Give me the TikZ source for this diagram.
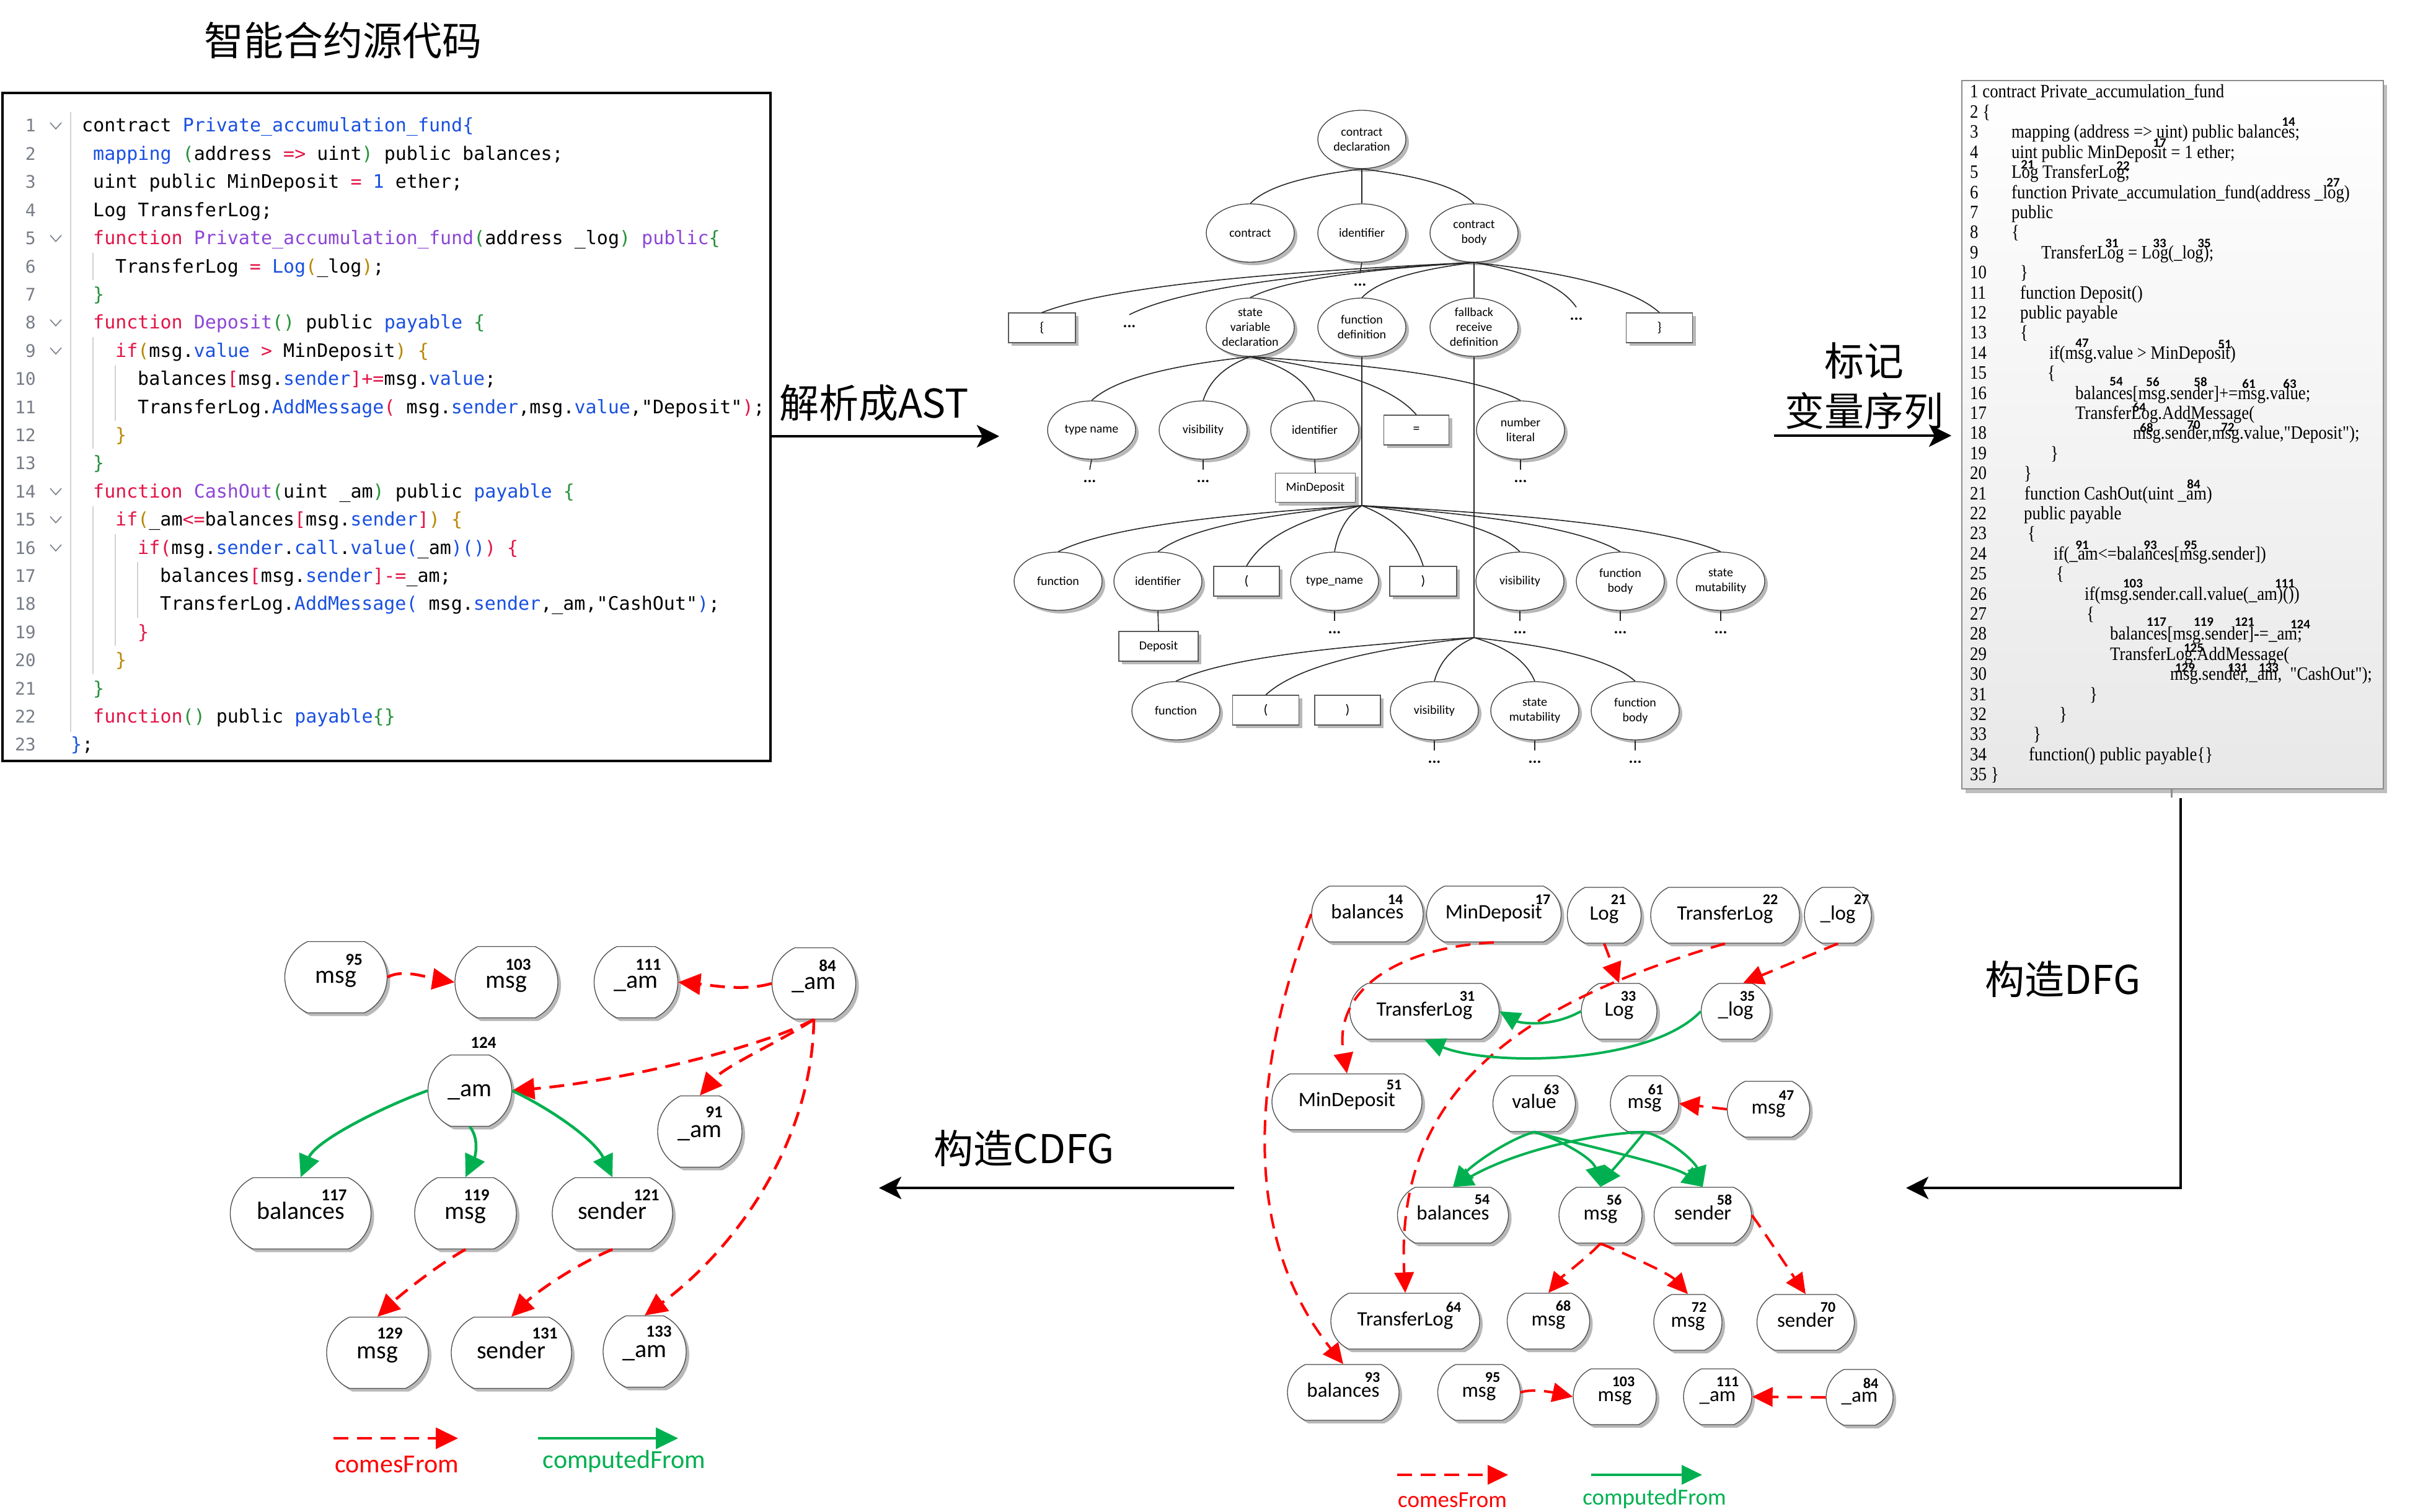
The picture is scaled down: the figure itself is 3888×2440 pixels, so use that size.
\documentclass[tikz,border=0pt]{standalone}
\usepackage{fontspec}
\setmainfont{Carlito}
\newfontfamily\cjk{Noto Sans CJK SC}
\newfontfamily\codefont{DejaVu Sans Mono}[WordSpace={1,0,0}]
\newfontfamily\tnr{Liberation Serif}[FakeStretch=0.88]
\usetikzlibrary{arrows.meta,calc,shapes.geometric,shapes.misc,shadows}
\definecolor{cred}{RGB}{255,0,0}
\definecolor{cgreen}{RGB}{0,176,80}
\definecolor{ckw}{RGB}{228,20,70}
\definecolor{cblu}{RGB}{25,80,225}
\definecolor{cpur}{RGB}{140,70,215}
\definecolor{cgrn}{RGB}{40,145,60}
\definecolor{cgld}{RGB}{185,135,0}
\definecolor{lngray}{RGB}{120,125,135}
\newcommand\cdR[1]{\textcolor{ckw}{#1}}
\newcommand\cdB[1]{\textcolor{cblu}{#1}}
\newcommand\cdP[1]{\textcolor{cpur}{#1}}
\newcommand\cdG[1]{\textcolor{cgrn}{#1}}
\newcommand\cdY[1]{\textcolor{cgld}{#1}}
\newcommand\codeln[3]{\node[ctxt,anchor=base west] (c#1) at (#2,{213+45.4*(#1-1)}) {#3};
  \node[lntxt,anchor=base east] (n#1) at (58,{213+45.4*(#1-1)}) {#1};}
\newcommand\chevr[1]{\pgfmathsetmacro\chvy{203+45.4*(#1-1)}\draw[chevst] (81,\chvy-5) -- (90,\chvy+5) -- (99,\chvy-5);}
\newcommand\rcode[3]{\node[rtxt,anchor=base west] (rt#1) at (#2,{158+32.4*(#1-1)}) {#3};
  \node[rtxt,anchor=base west] (rn#1) at (3178,{158+32.4*(#1-1)}) {#1};}
\newcommand\rcodenum[2]{\node[rtxt,anchor=base west] (rn#1) at (3178,{158+32.4*(#1-1)}) {#2};}
\tikzset{
  shad/.style={drop shadow={shadow xshift=5pt,shadow yshift=-5pt,opacity=0.28,fill=black}},
  astn/.style={ellipse,draw=black!75,line width=1.3pt,fill=white,minimum width=142pt,minimum height=94pt,inner sep=-12pt,align=center,font=\fontsize{20}{24}\selectfont,shad},
  astb/.style={rectangle,draw=black!65,line width=1.3pt,fill=white,minimum height=48pt,inner sep=0pt,font=\fontsize{22}{26}\selectfont,shad},
  tdots/.style={font=\bfseries\fontsize{26}{26}\selectfont,inner sep=0pt,minimum height=38pt},
  tline/.style={line width=1.6pt,draw=black!85},
  tedge/.style={tline,to path={.. controls ($0.5*(\tikztostart)+0.2*(\tikztotarget)+0.3*(\tikztotarget|-\tikztostart)$) and ($0.35*(\tikztotarget)+0.15*(\tikztostart|-\tikztotarget)+0.5*(\tikztotarget|-\tikztostart)$) .. (\tikztotarget)}},
  ctxt/.style={font=\codefont\fontsize{30}{36}\selectfont,inner sep=0pt},
  lntxt/.style={font=\codefont\fontsize{28}{34}\selectfont,text=lngray,inner sep=0pt},
  guide/.style={draw=black!18,line width=1.5pt},
  chevst/.style={draw=lngray,line width=1.6pt},
  rtxt/.style={font=\tnr\fontsize{30.5}{34}\selectfont,inner sep=0pt},
  rnum/.style={font=\bfseries\fontsize{21}{21}\selectfont,inner sep=0pt},
  dfgn/.style={rounded rectangle,rounded rectangle arc length=130,draw=black!70,line width=1.3pt,fill=white,minimum height=90pt,inner xsep=-8pt,inner ysep=0pt,text height=22pt,text depth=6.6pt,font=\fontsize{33}{36}\selectfont,shad},
  cdfgn/.style={dfgn,minimum height=115pt,text height=27pt,text depth=8pt,font=\fontsize{40}{44}\selectfont},
  numl/.style={font=\bfseries\fontsize{24}{24}\selectfont,inner sep=0pt},
  knuml/.style={font=\bfseries\fontsize{27}{27}\selectfont,inner sep=0pt},
  cf/.style={draw=cred,line width=4pt,dash pattern=on 24pt off 14pt,-{Triangle[length=33pt,width=31pt]}},
  cp/.style={draw=cgreen,line width=4pt,-{Triangle[length=33pt,width=31pt]}},
  cfk/.style={cf,line width=4.5pt,-{Triangle[length=36pt,width=34pt]}},
  cpk/.style={cp,line width=4.5pt,-{Triangle[length=36pt,width=34pt]}},
  bigarrow/.style={line width=4pt,-{Stealth[length=36pt,width=36pt,inset=9pt]}},
  cjkt/.style={font=\cjk\fontsize{64}{72}\selectfont,inner sep=0pt},
  legd/.style={font=\fontsize{37}{40}\selectfont,inner sep=0pt},
  legk/.style={font=\fontsize{42}{46}\selectfont,inner sep=0pt}
}
\begin{document}
\begin{tikzpicture}[x=1pt,y=-1pt]
\fill[white] (0,0) rectangle (3888,2440);
\path[use as bounding box] (0,0) rectangle (3888,2440);

% ---------------- title and source code box
\node[cjkt] (title) at (553,65) {智能合约源代码};
\node[draw=black,line width=4pt,fill=white,minimum width=1239pt,minimum height=1078pt,inner sep=0pt,anchor=north west] (lbox) at (2,148) {};
\draw[guide] (114,181) -- (114,1181);
\draw[guide] (150,408) -- (150,452);
\draw[guide] (150,544) -- (150,724);
\draw[guide] (150,817) -- (150,1088);
\draw[guide] (186,590) -- (186,679);
\draw[guide] (186,862) -- (186,1042);
\draw[guide] (222,907) -- (222,997);
\chevr{1}\chevr{5}\chevr{8}\chevr{9}\chevr{14}\chevr{15}\chevr{16}
\codeln{1}{132}{contract \cdB{Private\_accumulation\_fund\{}}
\codeln{2}{150}{\cdB{mapping} \cdG{(}address \cdR{=>} uint\cdG{)} public balances;}
\codeln{3}{150}{uint public MinDeposit \cdR{=} \cdB{1} ether;}
\codeln{4}{150}{Log TransferLog;}
\codeln{5}{150}{\cdR{function} \cdP{Private\_accumulation\_fund}\cdG{(}address \_log\cdG{)} \cdP{public}\cdG{\{}}
\codeln{6}{186}{TransferLog \cdR{=} \cdB{Log}\cdY{(}\_log\cdY{)};}
\codeln{7}{150}{\cdG{\}}}
\codeln{8}{150}{\cdR{function} \cdP{Deposit}\cdG{()} public \cdB{payable} \cdG{\{}}
\codeln{9}{186}{\cdR{if}\cdY{(}msg.\cdB{value} \cdR{>} MinDeposit\cdY{)} \cdY{\{}}
\codeln{10}{222}{balances\cdR{[}msg.\cdB{sender}\cdR{]+=}msg.\cdB{value};}
\codeln{11}{222}{TransferLog.\cdB{AddMessage}\cdR{(} msg.\cdB{sender},msg.\cdB{value},"Deposit"\cdR{)};}
\codeln{12}{186}{\cdY{\}}}
\codeln{13}{150}{\cdG{\}}}
\codeln{14}{150}{\cdR{function} \cdP{CashOut}\cdG{(}uint \_am\cdG{)} public \cdB{payable} \cdG{\{}}
\codeln{15}{186}{\cdR{if}\cdY{(}\_am\cdR{<=}balances\cdR{[}msg.\cdB{sender}\cdR{]}\cdY{)} \cdY{\{}}
\codeln{16}{222}{\cdR{if(}msg.\cdB{sender}.\cdB{call}.\cdB{value(}\_am\cdB{)()}\cdR{)} \cdR{\{}}
\codeln{17}{258}{balances\cdR{[}msg.\cdB{sender}\cdR{]-=}\_am;}
\codeln{18}{258}{TransferLog.\cdB{AddMessage(} msg.\cdB{sender},\_am,"CashOut"\cdB{)};}
\codeln{19}{222}{\cdR{\}}}
\codeln{20}{186}{\cdY{\}}}
\codeln{21}{150}{\cdG{\}}}
\codeln{22}{150}{\cdR{function}\cdG{()} public \cdB{payable}\cdG{\{\}}}
\codeln{23}{114}{\cdB{\}};}

% ---------------- arrow 1
\coordinate (a1s) at (1243,704);
\coordinate (a1e) at (1612,704);
\draw[bigarrow] (a1s) -- (a1e);
\node[cjkt] (lab1) at (1410,650) {解析成AST};

% ---------------- AST
\node[astn] (cd) at (2197,225) {contract\\declaration};
\node[astn] (ct) at (2017,376) {contract};
\node[astn] (id1) at (2197,376) {identifier};
\node[astn] (cb) at (2378,376) {contract\\body};
\node[astb,minimum width=108pt] (lb) at (1681,529) {\{};
\node[tdots] (dt1) at (1822,527) {...};
\node[astn] (svd) at (2017,528) {state\\variable\\declaration};
\node[astn] (fd) at (2197,528) {function\\definition};
\node[astn] (frd) at (2378,528) {fallback\\receive\\definition};
\node[tdots] (dt2) at (2543,515) {...};
\node[astb,minimum width=107pt] (rb) at (2677,529) {\}};
\node[tdots] (dt0) at (2194,460) {...};
\node[astn] (tn) at (1761,694) {type name};
\node[astn] (vis1) at (1941,694) {visibility};
\node[astn] (id2) at (2121,694) {identifier};
\node[astb,minimum width=105pt] (eq) at (2285,694) {=};
\node[astn] (nl) at (2453,694) {number\\literal};
\node[astb,minimum width=129pt,minimum height=47pt,font=\fontsize{20}{24}\selectfont] (mdb) at (2122,787) {MinDeposit};
\node[tdots] (dt3) at (1758,777) {...};
\node[tdots] (dt4) at (1941,777) {...};
\node[tdots] (dt5) at (2453,777) {...};
\node[astn] (f1) at (1707,938) {function};
\node[astn] (id3) at (1868,938) {identifier};
\node[astb,minimum width=106pt] (lp1) at (2011,938) {(};
\node[astn] (tyn) at (2153,938) {type\_name};
\node[astb,minimum width=108pt] (rp1) at (2296,938) {)};
\node[astn] (vis2) at (2452,938) {visibility};
\node[astn] (fb1) at (2614,938) {function\\body};
\node[astn] (sm1) at (2776,938) {state\\mutability};
\node[astb,minimum width=128pt,font=\fontsize{20}{24}\selectfont] (depb) at (1869,1043) {Deposit};
\node[tdots] (dt6) at (2153,1021) {...};
\node[tdots] (dt7) at (2452,1021) {...};
\node[tdots] (dt8) at (2614,1021) {...};
\node[tdots] (dt9) at (2776,1021) {...};
\node[astn] (f2) at (1897,1147) {function};
\node[astb,minimum width=107pt] (lp2) at (2042,1146) {(};
\node[astb,minimum width=106pt] (rp2) at (2174,1146) {)};
\node[astn] (vis3) at (2314,1147) {visibility};
\node[astn] (sm2) at (2476,1147) {state\\mutability};
\node[astn] (fb2) at (2638,1147) {function\\body};
\node[tdots] (dt10) at (2314,1230) {...};
\node[tdots] (dt11) at (2476,1230) {...};
\node[tdots] (dt12) at (2638,1230) {...};
\coordinate (J1) at (2197,816);
\coordinate (J2) at (2378,1029);

\draw[tedge] (cd.south) to (ct.north);
\draw[tedge] (cd.south) to (id1.north);
\draw[tedge] (cd.south) to (cb.north);
\draw[tline] (id1.south) -- (dt0.north);
\foreach \t in {lb,dt1,svd,fd,frd,dt2,rb} \draw[tedge] (cb.south) to (\t.north);
\foreach \t in {tn,vis1,id2,eq,nl} \draw[tedge] (svd.south) to (\t.north);
\draw[tline] (tn.south) -- (dt3.north);
\draw[tline] (vis1.south) -- (dt4.north);
\draw[tline] (nl.south) -- (dt5.north);
\draw[tline] (id2.south) -- (mdb.north);
\draw[tline] (fd.south) -- (J1);
\draw[tline] (frd.south) -- (J2);
\foreach \t in {f1,id3,lp1,tyn,rp1,vis2,fb1,sm1} \draw[tedge] (J1) to (\t.north);
\draw[tline] (id3.south) -- (depb.north);
\draw[tline] (tyn.south) -- (dt6.north);
\draw[tline] (vis2.south) -- (dt7.north);
\draw[tline] (fb1.south) -- (dt8.north);
\draw[tline] (sm1.south) -- (dt9.north);
\foreach \t in {f2,lp2,vis3,sm2,fb2} \draw[tedge] (J2) to (\t.north);
\draw[tline] (vis3.south) -- (dt10.north);
\draw[tline] (sm2.south) -- (dt11.north);
\draw[tline] (fb2.south) -- (dt12.north);

% ---------------- arrow 2
\coordinate (a2s) at (2862,703);
\coordinate (a2e) at (3148,703);
\draw[bigarrow] (a2s) -- (a2e);
\node[cjkt] (lab2a) at (3007,582) {标记};
\node[cjkt] (lab2b) at (3007,663) {变量序列};

% ---------------- marked code box
\node[rectangle,draw=black!45,line width=2pt,top color=white,bottom color=black!9,minimum width=680pt,minimum height=1143pt,inner sep=0pt,anchor=north west,drop shadow={shadow xshift=6pt,shadow yshift=-7pt,opacity=0.25,fill=black}] (rbox) at (3164,129) {};
\rcodenum{1}{1 contract Private\_accumulation\_fund}
\rcodenum{2}{2 \{}
\rcode{3}{3245}{mapping (address => uint) public balances;}
\rcode{4}{3245}{uint public MinDeposit = 1 ether;}
\rcode{5}{3245}{Log TransferLog;}
\rcode{6}{3245}{function Private\_accumulation\_fund(address \_log)}
\rcode{7}{3245}{public}
\rcode{8}{3245}{\{}
\rcode{9}{3293}{TransferLog = Log(\_log);}
\rcode{10}{3259}{\}}
\rcode{11}{3259}{function Deposit()}
\rcode{12}{3259}{public payable}
\rcode{13}{3259}{\{}
\rcode{14}{3306}{if(msg.value > MinDeposit)}
\rcode{15}{3303}{\{}
\rcode{16}{3348}{balances[msg.sender]+=msg.value;}
\rcode{17}{3348}{TransferLog.AddMessage(}
\rcode{18}{3441}{msg.sender,msg.value,"Deposit");}
\rcode{19}{3308}{\}}
\rcode{20}{3265}{\}}
\rcode{21}{3266}{function CashOut(uint \_am)}
\rcode{22}{3265}{public payable}
\rcode{23}{3271}{\{}
\rcode{24}{3313}{if(\_am<=balances[msg.sender])}
\rcode{25}{3317}{\{}
\rcode{26}{3363}{if(msg.sender.call.value(\_am)())}
\rcode{27}{3366}{\{}
\rcode{28}{3404}{balances[msg.sender]-=\_am;}
\rcode{29}{3404}{TransferLog.AddMessage(}
\rcode{30}{3501}{msg.sender,\_am,\ \ "CashOut");}
\rcode{31}{3371}{\}}
\rcode{32}{3322}{\}}
\rcode{33}{3280}{\}}
\rcode{34}{3273}{function() public payable\{\}}
\rcodenum{35}{35 \}}
\foreach \t/\x/\y in {14/3692/197,17/3484/231,21/3271/266,22/3425/268,27/3764/295,31/3407/393,33/3484/393,35/3556/393,47/3359/554,51/3589/556,54/3414/616,56/3473/616,58/3550/616,61/3628/619,63/3694/619,64/3451/657,68/3463/690,70/3539/686,72/3594/690,84/3539/781,91/3359/880,93/3469/880,95/3534/880,103/3441/942,111/3686/942,117/3479/1004,119/3555/1004,121/3621/1004,124/3711/1008,125/3539/1046,129/3525/1078,131/3610/1078,133/3660/1078}
  \node[rnum] (rl\t) at (\x,\y) {\t};

% ---------------- arrow 3
\coordinate (tk1) at (3503,1272);
\coordinate (tk2) at (3503,1287);
\draw[black!45,line width=3pt] (tk1) -- (tk2);
\coordinate (a3s) at (3518,1288);
\coordinate (a3m) at (3518,1917);
\coordinate (a3e) at (3075,1917);
\draw[bigarrow] (a3s) -- (a3m) -- (a3e);
\node[cjkt] (lab3) at (3328,1580) {构造DFG};

% ---------------- DFG
\node[dfgn,minimum width=164pt] (b14) at (2206,1475) {balances};
\node[dfgn,minimum width=201pt] (md17) at (2410,1475) {MinDeposit};
\node[dfgn,minimum width=103pt] (l21) at (2588,1477) {Log};
\node[dfgn,minimum width=224pt] (t22) at (2783,1477) {TransferLog};
\node[dfgn,minimum width=92pt] (lg27) at (2965,1477) {\_log};
\node[dfgn,minimum width=225pt] (t31) at (2298,1632) {TransferLog};
\node[dfgn,minimum width=106pt] (l33) at (2612,1632) {Log};
\node[dfgn,minimum width=95pt] (lg35) at (2800,1632) {\_log};
\node[dfgn,minimum width=226pt] (md51) at (2173,1778) {MinDeposit};
\node[dfgn,minimum width=117pt] (v63) at (2475,1781) {value};
\node[dfgn,minimum width=94pt] (m61) at (2653,1781) {msg};
\node[dfgn,minimum width=117pt] (m47) at (2853,1790) {msg};
\node[dfgn,minimum width=163pt] (b54) at (2344,1961) {balances};
\node[dfgn,minimum width=118pt] (m56) at (2582,1961) {msg};
\node[dfgn,minimum width=141pt] (s58) at (2747,1961) {sender};
\node[dfgn,minimum width=224pt] (t64) at (2267,2132) {TransferLog};
\node[dfgn,minimum width=117pt] (m68) at (2498,2132) {msg};
\node[dfgn,minimum width=94pt] (m72) at (2723,2134) {msg};
\node[dfgn,minimum width=141pt] (s70) at (2913,2134) {sender};
\node[dfgn,minimum width=164pt] (b93) at (2167,2247) {balances};
\node[dfgn,minimum width=117pt] (m95) at (2386,2247) {msg};
\node[dfgn,minimum width=118pt] (m103) at (2605,2254) {msg};
\node[dfgn,minimum width=94pt] (a111) at (2771,2254) {\_am};
\node[dfgn,minimum width=92pt] (a84) at (3000,2255) {\_am};
\foreach \t/\x/\y in {14/2251/1452,17/2489/1452,21/2611/1452,22/2856/1452,27/3003/1452,31/2367/1608,33/2627/1608,35/2819/1608,51/2249/1751,63/2503/1758,61/2671/1758,47/2882/1768,54/2391/1936,56/2604/1936,58/2782/1936,64/2345/2109,68/2522/2107,72/2741/2110,70/2949/2110,93/2214/2223,95/2408/2223,103/2619/2230,111/2787/2230,84/3018/2232}
  \node[numl] (dl\t) at (\x,\y) {\t};

\draw[cf] (b14.west) .. controls (2030,1700) and (1990,1980) .. (b93.north);
\draw[cf] (md17.south) .. controls (2250,1530) and (2150,1600) .. (md51.north);
\draw[cf] (l21.south) -- (l33.north);
\draw[cf] (t22.south) .. controls (2450,1620) and (2250,1760) .. (t64.north);
\draw[cf] (lg27.south) -- (lg35.75);
\draw[cp] (l33.west) .. controls (2500,1660) and (2450,1650) .. (t31.east);
\draw[cp] (lg35.west) .. controls (2660,1720) and (2400,1720) .. (t31.south);
\draw[cf] (m47.west) -- (m61.east);
\draw[cp] (v63.south) .. controls (2430,1840) and (2375,1880) .. (b54.north);
\draw[cp] (v63.south) .. controls (2520,1840) and (2570,1870) .. (m56.north);
\draw[cp] (v63.south) .. controls (2560,1850) and (2700,1880) .. (s58.north);
\draw[cp] (m61.south) .. controls (2560,1830) and (2440,1860) .. (b54.north);
\draw[cp] (m61.south) .. controls (2635,1850) and (2600,1890) .. (m56.north);
\draw[cp] (m61.south) .. controls (2690,1835) and (2735,1875) .. (s58.north);
\draw[cf] (m56.south) .. controls (2560,2030) and (2520,2060) .. (m68.north);
\draw[cf] (m56.south) .. controls (2626,2025) and (2693,2055) .. (m72.north);
\draw[cf] (s58.east) .. controls (2840,1979) and (2880,2040) .. (s70.north);
\draw[cf] (m95.east) .. controls (2472,2240) and (2510,2248) .. (m103.west);
\draw[cf] (a84.west) -- (a111.east);

\coordinate (dla) at (2254,2380);
\coordinate (dlb) at (2433,2380);
\coordinate (dlc) at (2567,2380);
\coordinate (dld) at (2746,2380);
\draw[cf] (dla) -- (dlb);
\draw[cp] (dlc) -- (dld);
\node[legd,text=cred] (dlt1) at (2343,2421) {comesFrom};
\node[legd,text=cgreen] (dlt2) at (2669,2419) {computedFrom};

% ---------------- arrow 4
\coordinate (a4s) at (1991,1917);
\coordinate (a4e) at (1418,1917);
\draw[bigarrow] (a4s) -- (a4e);
\node[cjkt] (lab4) at (1652,1853) {构造CDFG};

% ---------------- CDFG
\node[cdfgn,minimum width=149pt] (k95) at (542,1577) {msg};
\node[cdfgn,minimum width=150pt] (k103) at (817,1585) {msg};
\node[cdfgn,minimum width=119pt] (k111) at (1026,1585) {\_am};
\node[cdfgn,minimum width=119pt] (k84) at (1313,1587) {\_am};
\node[cdfgn,minimum width=119pt] (k124) at (758,1760) {\_am};
\node[cdfgn,minimum width=120pt] (k91) at (1129,1826) {\_am};
\node[cdfgn,minimum width=211pt] (k117) at (485,1958) {balances};
\node[cdfgn,minimum width=148pt] (k119) at (751,1958) {msg};
\node[cdfgn,minimum width=178pt] (k121) at (988,1958) {sender};
\node[cdfgn,minimum width=148pt] (k129) at (609,2183) {msg};
\node[cdfgn,minimum width=178pt] (k131) at (825,2183) {sender};
\node[cdfgn,minimum width=118pt] (k133) at (1040,2181) {\_am};
\foreach \t/\x/\y in {95/571/1549,103/836/1557,111/1046/1557,84/1335/1558,124/780/1683,91/1152/1795,117/539/1929,119/769/1929,121/1043/1929,129/629/2152,131/879/2152,133/1063/2149}
  \node[knuml] (kl\t) at (\x,\y) {\t};

\draw[cfk] (k95.east) .. controls (650,1562) and (700,1580) .. (k103.west);
\draw[cfk] (k84.west) .. controls (1200,1600) and (1150,1590) .. (k111.east);
\draw[cfk] (k84.south) .. controls (1230,1690) and (1000,1745) .. (k124.east);
\draw[cfk] (k84.south) .. controls (1260,1680) and (1170,1720) .. (k91.north);
\draw[cfk] (k84.south) .. controls (1310,1850) and (1180,2020) .. (k133.north);
\draw[cpk] (k124.west) .. controls (620,1785) and (510,1840) .. (k117.north);
\draw[cpk] (k124.south) .. controls (775,1840) and (765,1870) .. (k119.north);
\draw[cpk] (k124.east) .. controls (890,1790) and (960,1840) .. (k121.north);
\draw[cfk] (k119.south) .. controls (700,2045) and (640,2095) .. (k129.north);
\draw[cfk] (k121.south) .. controls (920,2045) and (860,2090) .. (k131.north);

\coordinate (kla) at (538,2321);
\coordinate (klb) at (739,2321);
\coordinate (klc) at (868,2321);
\coordinate (kld) at (1094,2321);
\draw[cfk] (kla) -- (klb);
\draw[cpk] (klc) -- (kld);
\node[legk,text=cred] (klt1) at (640,2363) {comesFrom};
\node[legk,text=cgreen] (klt2) at (1007,2358) {computedFrom};
\end{tikzpicture}
\end{document}
